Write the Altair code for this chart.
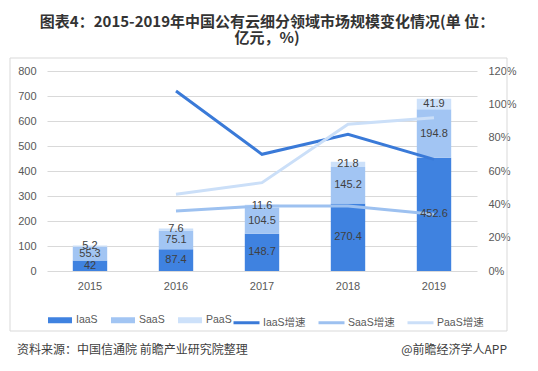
import altair as alt
import pandas as pd

years = ["2015", "2016", "2017", "2018", "2019"]
types = ["IaaS", "SaaS", "PaaS"]
iaas = [42, 87.4, 148.7, 270.4, 452.6]
saas = [55.3, 75.1, 104.5, 145.2, 194.8]
paas = [5.2, 7.6, 11.6, 21.8, 41.9]

growth_years = ["2016", "2017", "2018", "2019"]
growth_names = ["IaaS增速", "SaaS增速", "PaaS增速"]
iaas_g = [1.08, 0.70, 0.82, 0.67]
saas_g = [0.36, 0.39, 0.39, 0.34]
paas_g = [0.46, 0.53, 0.88, 0.92]

bar_colors = ["#3F82E0", "#A2C5F3", "#CDE1FA"]
line_colors = ["#3A7AD8", "#9DC1F0", "#CBDFF8"]

FONT = "Liberation Sans, Noto Sans CJK SC, sans-serif"
CJK = "Noto Sans CJK SC, sans-serif"

rows = []
for i, y in enumerate(years):
    for k, (name, vals) in enumerate(zip(types, [iaas, saas, paas])):
        rows.append({"year": y, "type": name, "value": vals[i], "ord": k,
                     "label": f"{vals[i]:g}"})
bars_df = pd.DataFrame(rows)

lrows = []
for name, vals in zip(growth_names, [iaas_g, saas_g, paas_g]):
    for y, v in zip(growth_years, vals):
        lrows.append({"year": y, "series": name, "rate": v})
lines_df = pd.DataFrame(lrows)

x_enc = alt.X("year:N",
              scale=alt.Scale(domain=years, paddingInner=0.6, paddingOuter=0.3),
              axis=alt.Axis(title=None, labelAngle=0, ticks=False, domain=False,
                            labelPadding=9, labelFontSize=11, labelColor="#595959",
                            labelFont=FONT))

stacked = alt.Chart(bars_df).transform_stack(
    stack="value", groupby=["year"], as_=["v0", "v1"],
    sort=[alt.SortField("ord", order="ascending")]
).transform_calculate(mid="(datum.v0 + datum.v1) / 2")

bars = stacked.mark_bar().encode(
    x=x_enc,
    y=alt.Y("v0:Q", scale=alt.Scale(domain=[0, 800]),
            axis=alt.Axis(title=None, orient="left", values=list(range(0, 801, 100)),
                          ticks=False, domain=False, labelPadding=11,
                          labelFontSize=11, labelColor="#595959", labelFont=FONT,
                          gridColor="#D9D9D9", gridWidth=1)),
    y2="v1:Q",
    fill=alt.Fill("type:N", scale=alt.Scale(domain=types, range=bar_colors),
                  legend=alt.Legend(title=None, orient="none", direction="horizontal",
                                    legendX=1, legendY=237,
                                    symbolType="M-1,-0.25H1V0.25H-1Z", symbolSize=576,
                                    symbolStrokeWidth=0, labelFontSize=10.5,
                                    labelColor="#595959", labelFont=FONT,
                                    labelOffset=4, columnPadding=13)),
)

lines = alt.Chart(lines_df).mark_line(strokeWidth=3).encode(
    x=x_enc,
    y=alt.Y("rate:Q", scale=alt.Scale(domain=[0, 1.2]),
            axis=alt.Axis(title=None, orient="right", format="%",
                          values=[0, 0.2, 0.4, 0.6, 0.8, 1.0, 1.2],
                          ticks=False, domain=False, grid=False, labelPadding=11,
                          labelFontSize=11, labelColor="#595959", labelFont=FONT)),
    stroke=alt.Stroke("series:N", scale=alt.Scale(domain=growth_names, range=line_colors),
                      legend=alt.Legend(title=None, orient="none", direction="horizontal",
                                        legendX=185, legendY=237,
                                        symbolType="stroke", symbolSize=676,
                                        symbolStrokeWidth=3, labelFontSize=10.5,
                                        labelColor="#595959", labelFont=FONT,
                                        labelOffset=2, columnPadding=6)),
)

labels = stacked.mark_text(fontSize=11, color="#404040", font=FONT).encode(
    x=x_enc,
    y=alt.Y("mid:Q", scale=alt.Scale(domain=[0, 800]), axis=None),
    text="label:N",
)

border = alt.Chart(pd.DataFrame({"a": [0]})).mark_rect(
    fill=None, stroke="#D9D9D9", strokeWidth=1
).encode(x=alt.value(-37), x2=alt.value(460), y=alt.value(-13), y2=alt.value(260))

foot_df = pd.DataFrame({"a": [0]})
foot_left = alt.Chart(foot_df).mark_text(
    text="资料来源：中国信通院 前瞻产业研究院整理", align="left", baseline="middle",
    fontSize=12, color="#404040", font=CJK
).encode(x=alt.value(-30), y=alt.value(279))
foot_right = alt.Chart(foot_df).mark_text(
    text="@前瞻经济学人APP", align="right", baseline="middle",
    fontSize=12, color="#404040", font=CJK
).encode(x=alt.value(460), y=alt.value(279))

chart = alt.layer(bars, lines, labels, border, foot_left, foot_right).resolve_scale(
    y="independent", fill="independent", stroke="independent"
).properties(
    width=430, height=200,
    autosize=alt.AutoSizeParams(type="none"),
    padding={"left": 39, "top": 63, "right": 53, "bottom": 92},
    title=alt.TitleParams(
        text=["图表4：2015-2019年中国公有云细分领域市场规模变化情况(单 位：", "亿元，%)"],
        fontSize=15, fontWeight="bold", font=CJK, color="#333333",
        anchor="middle", dx=5, lineHeight=16, offset=12,
    ),
).configure_view(stroke=None)

chart.save("out.html", embed_options={"renderer": "svg", "actions": False})
